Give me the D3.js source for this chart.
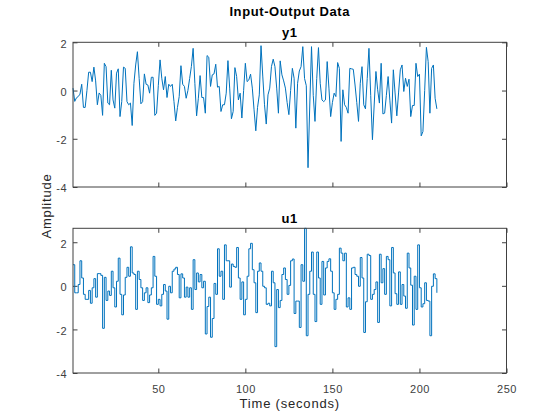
<!DOCTYPE html>
<html>
<head>
<meta charset="utf-8">
<script src="https://cdn.jsdelivr.net/npm/d3@7"></script>
<style>
  body { margin: 0; background: #fff; }
  svg text { font-family: "Liberation Sans", Arial, sans-serif; }
  .axis text { font-size: 11px; fill: #404040; letter-spacing: 0.5px; }
  .axis path, .axis line { stroke: #404040; }
  .titulo { font-size: 13px; font-weight: bold; fill: #000; letter-spacing: 0.6px; }
  .labels { font-size: 13px; fill: #262626; letter-spacing: 0.8px; }
</style>
</head>
<body>
<div id="chart"></div>
<script>
// datos (t = 1..210)
const y1 = [
  0.1, -0.45, -0.3, -0.25, -0.15, 0.26, -0.7, -0.7, 0.0, 0.76,
  0.76, 0.37, 0.97, 0.4, -0.59, -0.1, -0.2, -1.03, 1.13, 0.99,
  -0.52, -0.59, 0.84, -0.39, -0.73, 0.72, 0.9, -1.08, -0.46, 0.97,
  0.92, -0.46, -0.59, -0.52, -1.45, 0.3, 1.06, 1.61, 0.5, -0.55,
  -0.46, 0.69, 0.26, 0.23, -0.11, 0.55, 0.55, -1.03, -0.94, 0.2,
  1.27, 0.51, 0.03, 0.58, -0.29, 0.26, 0.17, 0.26, -0.46, -1.26,
  -0.7, -0.25, 1.03, 0.26, 0.17, -0.32, 0.0, 0.5, 1.0, 1.75,
  0.3, -1.05, -0.32, 0.62, -0.29, -0.29, -0.94, 1.45, 1.38, 0.17,
  0.65, 0.69, 1.09, 0.14, 0.17, -0.87, -0.59, -0.59, -0.11, 1.24,
  0.1, -1.17, -0.87, 0.95, 0.58, -0.39, -0.11, -1.14, 0.0, 1.13,
  0.37, 0.44, 0.68, 0.1, -0.8, -1.67, -0.7, -0.18, 1.86, 0.6,
  -0.59, -1.39, -0.18, 0.1, 1.0, 1.3, 0.99, 0.1, -0.94, 1.23,
  0.65, 0.4, 0.1, -0.5, -1.0, 0.0, 0.92, 0.51, -1.56, 0.3,
  0.81, 0.99, 1.82, 0.5, 0.2, -3.2, -0.6, 1.82, -0.2, -1.28,
  0.5, 1.78, 0.3, -0.39, -0.46, -0.39, 1.2, 0.1, -1.08, -0.5,
  -0.11, -0.25, 1.16, 0.92, -2.11, 0.03, -0.59, -0.7, -0.94, 0.92,
  0.9, 0.88, 0.23, -0.5, -1.28, 0.3, 0.99, -0.59, -0.76, 0.5,
  1.75, -0.2, -2.04, -0.6, 0.79, 0.03, -0.52, 1.13, -0.97, -0.94,
  -0.2, 0.58, -0.4, -1.35, 0.86, -0.1, -1.05, -0.1, 0.86, 1.06,
  -0.04, 0.51, 0.17, 0.47, -1.08, -0.62, -0.62, 1.13, 0.58, 0.68,
  -1.88, -1.7, 0.0, 1.79, 1.2, -0.94, 0.92, 1.06, -0.32, -0.76
];

const u1 = [
  0.97, -0.32, -0.32, 0.06, 1.15, 0.36, -0.39, -0.62, -0.62, -0.21,
  -0.8, -0.09, 0.33, -0.52, 0.56, 0.56, 0.48, -1.95, 0.39, -0.67,
  -0.24, -0.44, 0.67, -0.09, -0.97, 0.21, 1.27, -0.39, -1.33, -0.42,
  0.39, 0.85, 0.44, 1.79, 0.59, 0.52, -1.08, 0.67, 0.29, -0.09,
  -0.67, -0.32, -0.09, -0.77, -0.42, -0.09, 1.35, 0.44, -0.85, -0.62,
  -0.92, -0.39, 0.06, -0.24, -1.53, -0.02, -0.32, 0.67, 0.77, 0.85,
  0.52, -0.55, 0.55, 0.36, -0.52, -0.06, -0.52, -0.09, -1.08, 1.2,
  -0.17, 0.59, 0.18, 0.52, -0.09, 0.21, -2.21, -0.95, -0.52, -2.36,
  -1.5, 0.11, -0.39, 1.7, 0.44, 0.67, -0.62, 1.88, 1.15, 1.15,
  -0.06, 1.0, 0.89, 0.85, 1.76, 0.36, -0.62, 0.18, -1.33, -0.62,
  0.44, 1.7, 1.95, 0.74, 0.14, -1.23, 0.67, 1.05, 0.67, -0.02,
  -0.09, -0.85, -0.8, -0.92, 0.67, 0.14, -2.79, -0.17, -1.0, -0.67,
  0.52, 0.82, 0.29, -0.39, 0.02, 1.15, 1.23, -1.27, -0.7, -0.7,
  -1.91, 0.97, 0.21, 2.64, -2.29, -0.39, 0.67, 1.55, -0.39, -1.64,
  1.55, 0.36, -0.85, 1.12, -0.42, 0.82, 1.12, 1.24, 0.67, -0.32,
  -1.08, -0.62, -0.39, 1.73, 1.5, 1.15, 1.5, -0.97, -0.55, -1.08,
  0.82, 0.85, 0.52, 0.44, -0.02, 1.3, 0.36, -2.14, -0.73, 1.45,
  1.39, -0.62, -0.39, -0.17, 0.18, -1.68, 1.45, 0.14, 0.79, -0.39,
  1.35, 1.2, -0.92, 1.76, 0.59, -0.36, -0.85, 0.64, -0.85, 0.06,
  -0.47, -1.03, 1.5, 0.82, 0.03, -1.8, 0.44, -1.08, 1.88, -0.09,
  -0.97, -0.82, 0.14, -0.67, -0.7, -2.29, -0.02, 0.55, 0.33, -0.32
];

const tiempo = d3.range(1, y1.length + 1);
const xTicks = [50, 100, 150, 200, 250];
const yTicks = [-4, -2, 0, 2];

// dimensiones
const width = 560;
const height = 420;
const left = 73;
const right = 506.5;
const paneles = [
  { nombre: "y1", datos: y1, top: 42.3, bottom: 187, dominio: [-4, 2], curva: d3.curveLinear },
  { nombre: "u1", datos: u1, top: 228.3, bottom: 373, dominio: [-4, d3.max(u1)], curva: d3.curveStepAfter }
];

const svg = d3.select("#chart")
  .append("svg")
  .attr("width", width)
  .attr("height", height);

const x = d3.scaleLinear().domain([1, 250]).range([left, right]);

paneles.forEach((p, i) => {
  const y = d3.scaleLinear().domain(p.dominio).range([p.bottom, p.top]);
  const esUltimo = i === paneles.length - 1;

  // ejes abajo / arriba
  svg.append("g")
    .attr("class", "axis")
    .attr("transform", `translate(0, ${p.bottom})`)
    .call(d3.axisBottom(x).tickValues(xTicks).tickSize(-4.5).tickPadding(12)
      .tickFormat(esUltimo ? d3.format("d") : () => ""))
    .call(g => g.select(".domain").remove());

  svg.append("g")
    .attr("class", "axis")
    .attr("transform", `translate(0, ${p.top})`)
    .call(d3.axisTop(x).tickValues(xTicks).tickSize(-4.5).tickFormat(() => ""))
    .call(g => g.select(".domain").remove());

  // ejes izquierda / derecha
  svg.append("g")
    .attr("class", "axis")
    .attr("transform", `translate(${left}, 0)`)
    .call(d3.axisLeft(y).tickValues(yTicks).tickSize(-4.5).tickPadding(6)
      .tickFormat(d => d < 0 ? "-" + Math.abs(d) : d))
    .call(g => g.select(".domain").remove())
    .call(g => g.selectAll("text").attr("dy", "0.45em"));

  svg.append("g")
    .attr("class", "axis")
    .attr("transform", `translate(${right}, 0)`)
    .call(d3.axisRight(y).tickValues(yTicks).tickSize(-4.5).tickFormat(() => ""))
    .call(g => g.select(".domain").remove());

  // linea de datos
  const linea = d3.line()
    .x((d, j) => x(tiempo[j]))
    .y(d => y(d))
    .curve(p.curva);

  svg.append("path")
    .datum(p.datos)
    .attr("fill", "none")
    .attr("stroke", "#0072BD")
    .attr("stroke-width", 1)
    .attr("d", linea);

  // caja
  svg.append("rect")
    .attr("x", left)
    .attr("y", p.top)
    .attr("width", right - left)
    .attr("height", p.bottom - p.top)
    .attr("fill", "none")
    .attr("stroke", "#404040")
    .attr("stroke-width", 1);

  svg.append("text")
    .attr("class", "titulo")
    .attr("x", (left + right) / 2)
    .attr("y", p.top - 5.5)
    .attr("text-anchor", "middle")
    .text(p.nombre);
});

svg.append("text")
  .attr("class", "titulo")
  .attr("x", (left + right) / 2)
  .attr("y", 15.5)
  .attr("text-anchor", "middle")
  .text("Input-Output Data");

svg.append("text")
  .attr("class", "labels")
  .attr("x", (left + right) / 2)
  .attr("y", 408)
  .attr("text-anchor", "middle")
  .text("Time (seconds)");

svg.append("g")
  .attr("transform", `translate(51, 206)`)
  .append("text")
  .attr("class", "labels")
  .attr("transform", "rotate(-90)")
  .attr("text-anchor", "middle")
  .text("Amplitude");
</script>
</body>
</html>
